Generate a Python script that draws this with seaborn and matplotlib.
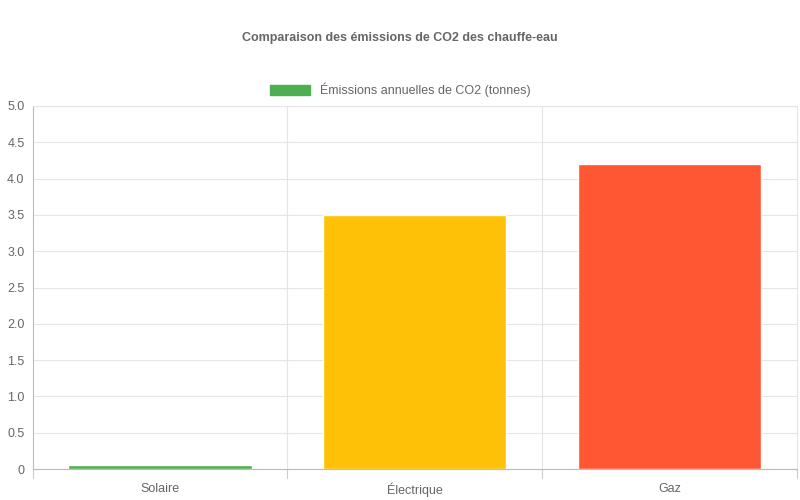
import matplotlib
matplotlib.use('Agg')
import pandas as pd
import seaborn as sns
from matplotlib import pyplot as plt
from matplotlib.patches import Patch

categories = ['Solaire', 'Électrique', 'Gaz']
emissions = [0.05, 3.5, 4.2]
colors = ['#4CAF50', '#FFC107', '#FF5733']
y_ticks = [0, 0.5, 1.0, 1.5, 2.0, 2.5, 3.0, 3.5, 4.0, 4.5, 5.0]
y_labels = ['0', '0.5', '1.0', '1.5', '2.0', '2.5', '3.0', '3.5', '4.0', '4.5', '5.0']

sns.set_style('white')
plt.rcParams['font.family'] = ['Liberation Sans', 'DejaVu Sans']

df = pd.DataFrame({'type': categories, 'co2': emissions})

fig = plt.figure(figsize=(8, 5), dpi=100)
ax = fig.add_axes([0.041, 0.062, 0.955, 0.726])
sns.barplot(data=df, x='type', y='co2', hue='type', palette=colors,
            width=0.72, legend=False, ax=ax, saturation=1)

ax.set_xlim(-0.5, 2.5)
ax.set_ylim(0, 5)
ax.set_yticks(y_ticks)
ax.set_yticklabels(y_labels)
ax.set_xlabel('')
ax.set_ylabel('')
ax.tick_params(colors='#666666', labelsize=9, length=0, pad=6)
ax.tick_params(axis='x', pad=10)
for y in y_ticks:
    ax.axhline(y, color='#e5e5e5', lw=0.8, zorder=0)
for x in [0.5, 1.5]:
    ax.axvline(x, color='#e5e5e5', lw=0.8, zorder=0)
for x in [-0.5, 0.5, 1.5, 2.5]:
    ax.plot([x, x], [0, -0.12], color='#cccccc', lw=0.8, clip_on=False)
for s in ax.spines.values():
    s.set_color('#e5e5e5')
    s.set_linewidth(0.8)
ax.spines['bottom'].set_color('#bbbbbb')
ax.spines['left'].set_color('#bbbbbb')

fig.text(0.5, 0.925, 'Comparaison des émissions de CO2 des chauffe-eau',
         ha='center', va='center', fontsize=9, fontweight='bold', color='#666666')
fig.legend(handles=[Patch(color=colors[0])],
           labels=['Émissions annuelles de CO2 (tonnes)'],
           loc='center', bbox_to_anchor=(0.5, 0.82), frameon=False,
           fontsize=9, labelcolor='#666666', handlelength=3.2, handleheight=0.9)

fig.savefig('out.png', dpi=100)
